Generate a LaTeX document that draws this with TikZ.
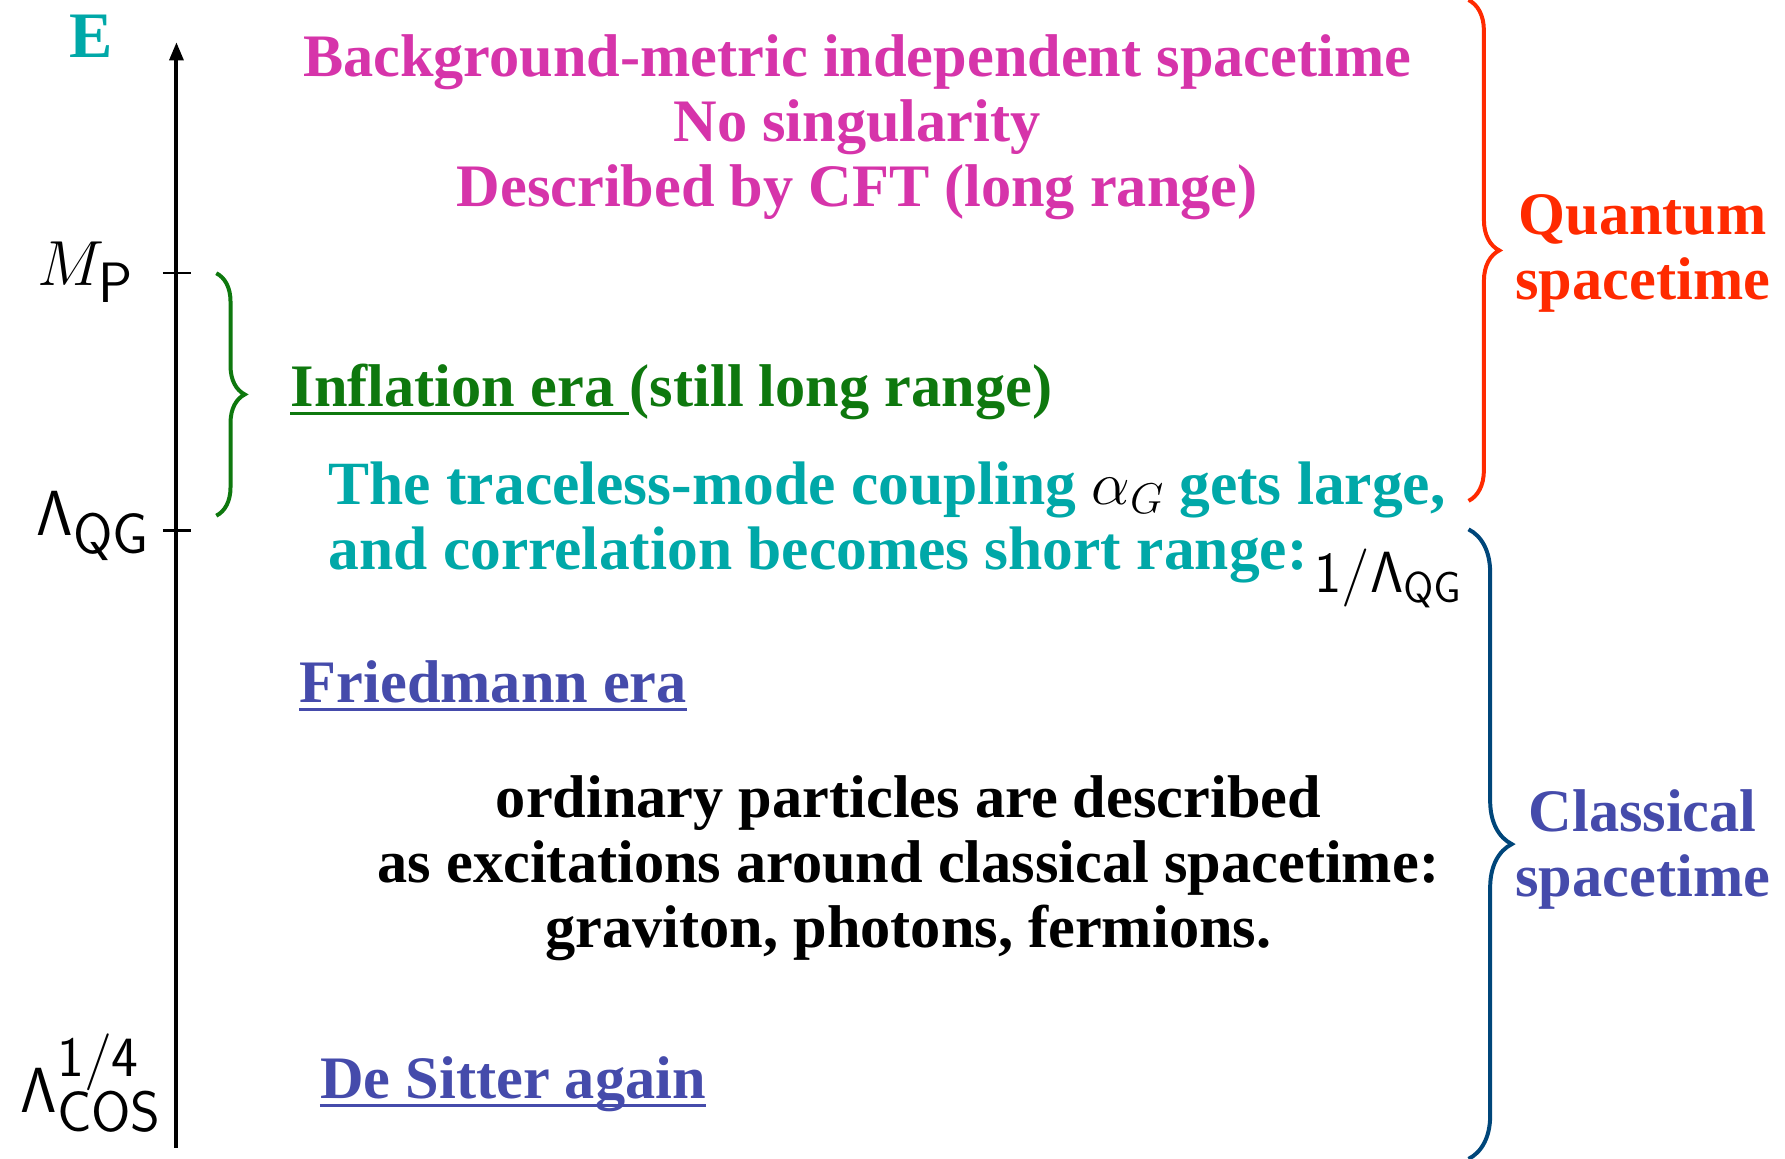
\RequirePackage{fix-cm}
\documentclass[tikz,border=0pt]{standalone}
\usepackage[no-math]{fontspec}
\setmainfont{Liberation Serif}
\usetikzlibrary{arrows.meta,decorations.pathreplacing,positioning,calc}
\definecolor{tealE}{RGB}{0,168,168}
\definecolor{magtxt}{RGB}{214,52,170}
\definecolor{grn}{RGB}{14,120,14}
\definecolor{redq}{RGB}{255,42,0}
\definecolor{bluetxt}{RGB}{69,75,171}
\definecolor{bluebr}{RGB}{0,70,122}
\DeclareMathSizes{56}{56}{50}{40}
\DeclareMathSizes{51}{51}{38}{30}
\tikzset{every picture/.style={line width=0.75pt}}

\begin{document}
\begin{tikzpicture}[x=1pt,y=1pt,
    big/.style={font=\bfseries\fontsize{53}{57}\selectfont},
    lbl/.style={font=\fontsize{56}{60}\selectfont, inner sep=0pt},
    brc/.style={decorate, decoration={brace,amplitude=#1}, line width=3.5pt},
    uline/.style={line width=2.5pt}]
    \useasboundingbox (0,0) rectangle (1568,1018);

    % energy axis
    \coordinate (bot) at (155,10);
    \coordinate (top) at (155,981);
    \draw[line width=3.5pt, -{Triangle[length=16pt,width=12pt]}] (bot) -- (top);
    \node[font=\bfseries\fontsize{57}{60}\selectfont, text=tealE] (elabel) at (80,986) {E};

    % ticks and scales
    \coordinate (mp) at (155,778);
    \coordinate (lqg) at (155,552);
    \draw[line width=2pt] ([xshift=-12pt]mp) -- ([xshift=13pt]mp);
    \draw[line width=2pt] ([xshift=-12pt]lqg) -- ([xshift=13pt]lqg);
    \node[lbl, anchor=east] (mplabel) at (117,779) {$M_{\mathsf{P}}$};
    \node[lbl, anchor=east] (lqglabel) at (131,556) {$\mathsf{\Lambda_{QG}}$};
    \node[lbl, anchor=east] (lcoslabel) at (142,67) {$\mathsf{\Lambda_{COS}^{1/4}}$};

    % quantum region
    \node[big, text=magtxt, align=center] (bgtxt) at (753,906)
        {Background-metric independent spacetime\\No singularity\\Described by CFT (long range)};
    \coordinate (rqtop) at (1290,1018);
    \coordinate (rqbot) at (1290,578);
    \draw[brc=27pt, redq] (rqtop) -- (rqbot);
    \node[big, text=redq, align=center] (qlabel) at (1443,795) {Quantum\\spacetime};

    % inflation
    \coordinate (grtop) at (190,778);
    \coordinate (grbot) at (190,565);
    \draw[brc=25pt, grn] (grtop) -- (grbot);
    \node[big, text=grn, anchor=base west, inner sep=0pt] (infl) at (255,661) {Inflation era\kern13pt};
    \node[big, text=grn, anchor=base west, inner sep=0pt] (infl2) at (infl.base east) {(still long range)};
    \draw[uline, grn] ([yshift=-6pt]infl.base west) -- ([yshift=-6pt]infl.base east);

    \node[big, font=\bfseries\fontsize{54}{57}\selectfont, text=tealE, align=left, anchor=west] (coupl) at (285,559)
        {The traceless-mode coupling {\color{black}$\alpha_G$} gets large,\\and correlation becomes short range:};
    \node[font=\fontsize{51}{55}\selectfont, inner sep=0pt] (qginv) at (1219,510) {$\mathsf{1/\Lambda_{QG}}$};

    % classical region
    \coordinate (cltop) at (1290,553);
    \coordinate (clbot) at (1290,0);
    \draw[brc=38pt, bluebr] (cltop) -- (clbot);
    \node[big, text=bluetxt, align=center] (clabel) at (1443,272) {Classical\\spacetime};

    \node[big, text=bluetxt, anchor=base west, inner sep=0pt] (fried) at (263,401) {Friedmann era};
    \draw[uline, bluetxt] ([yshift=-6pt]fried.base west) -- ([yshift=-6pt]fried.base east);

    \node[big, align=center] (ordin) at (798,255)
        {ordinary particles are described\\as excitations around classical spacetime:\\graviton, photons, fermions.};

    \node[big, text=bluetxt, anchor=base west, inner sep=0pt] (desit) at (281,53) {De Sitter again};
    \draw[uline, bluetxt] ([yshift=-6pt]desit.base west) -- ([yshift=-6pt]desit.base east);
\end{tikzpicture}
\end{document}
